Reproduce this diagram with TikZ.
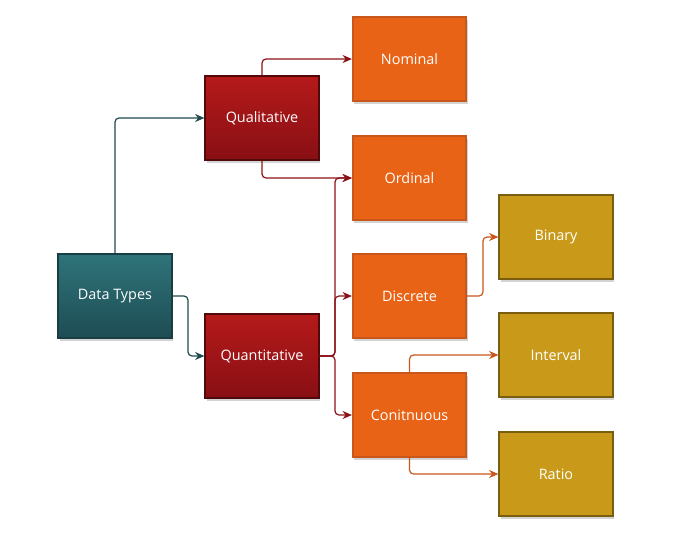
\documentclass[tikz,border=0pt]{standalone}
\usepackage{fontspec}
\setmainfont{Open Sans}
\usepackage{tikz}
\usetikzlibrary{arrows.meta,positioning,shadows,shadings}
\definecolor{teal1}{HTML}{2E7479}
\definecolor{teal2}{HTML}{1E4C54}
\definecolor{tealln}{HTML}{1F4A50}
\definecolor{red1}{HTML}{B51A1A}
\definecolor{red2}{HTML}{880F14}
\definecolor{redln}{HTML}{8A1216}
\definecolor{org}{HTML}{E86316}
\definecolor{orgdk}{HTML}{C9561A}
\definecolor{gold}{HTML}{C99A1A}
\definecolor{golddk}{HTML}{7A5E10}
\tikzset{
  box/.style={draw,line width=1.4pt,minimum width=85pt,minimum height=63pt,text=white,align=center,
    font=\fontsize{10.8}{13}\selectfont,drop shadow={shadow xshift=1pt,shadow yshift=-2pt,opacity=0.35}},
  rootbox/.style={box,draw=teal2!80!black,top color=teal1,bottom color=teal2},
  midbox/.style={box,draw=red2!60!black,top color=red1,bottom color=red2},
  obox/.style={box,draw=orgdk,fill=org},
  gbox/.style={box,draw=golddk,fill=gold},
  ar/.style={-{Stealth[length=7pt,width=6pt]},line width=0.9pt,rounded corners=3pt},
}
\begin{document}
\begin{tikzpicture}[x=0.75pt,y=-0.75pt]
\useasboundingbox (0,0) rectangle (674,537);
% root and first split
\node[rootbox] (dt) at (115,296) {Data Types};
\node[midbox] (qual) at (262,118) {Qualitative};
\node[midbox] (quant) at (262,356) {Quantitative};
% second level
\node[obox] (nom) at (409.5,59) {Nominal};
\node[obox] (ord) at (409.5,178) {Ordinal};
\node[obox] (disc) at (409.5,296) {Discrete};
\node[obox] (cont) at (409.5,415) {Conitnuous};
% leaves
\node[gbox] (bin) at (556,237) {Binary};
\node[gbox] (intv) at (556,355) {Interval};
\node[gbox] (rat) at (556,474) {Ratio};
% connectors
\coordinate (dtturn) at (188,296);
\coordinate (qsplit) at (335,356);
\coordinate (dturn) at (483,296);
\draw[ar,draw=tealln] (dt.north) |- (qual.west);
\draw[ar,draw=tealln] (dt.east) -- (dtturn) |- (quant.west);
\draw[ar,draw=redln] (qual.north) |- (nom.west);
\draw[ar,draw=redln] (qual.south) |- (ord.west);
\draw[ar,draw=redln] (quant.east) -- (qsplit) |- (ord.west);
\draw[ar,draw=redln] (quant.east) -- (qsplit) |- (disc.west);
\draw[ar,draw=redln] (quant.east) -- (qsplit) |- (cont.west);
\draw[ar,draw=orgdk] (disc.east) -- (dturn) |- (bin.west);
\draw[ar,draw=orgdk] (cont.north) |- (intv.west);
\draw[ar,draw=orgdk] (cont.south) |- (rat.west);
\end{tikzpicture}
\end{document}
